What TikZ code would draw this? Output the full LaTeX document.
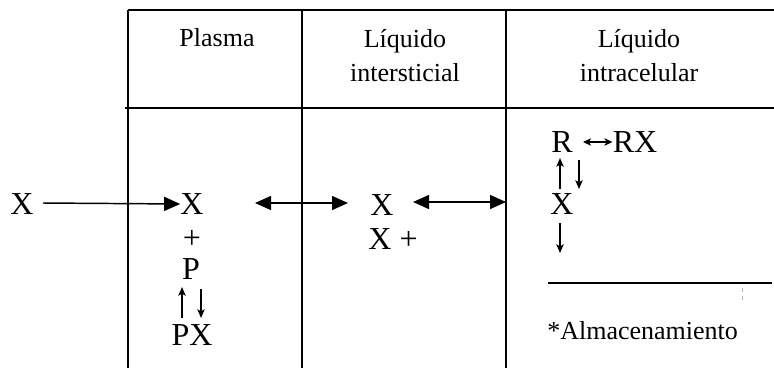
\documentclass[tikz,border=0pt]{standalone}
\usepackage{fontspec}
\setmainfont{Liberation Serif}
\usetikzlibrary{arrows.meta}
\begin{document}
\begin{tikzpicture}[x=0.75pt,y=-0.75pt,
  gridline/.style={line width=0.8pt},
  hdr/.style={font=\fontsize{19.5}{25.5}\selectfont, inner sep=0, align=center},
  chem/.style={font=\fontsize{24}{26}\selectfont, inner sep=0},
  txt/.style={font=\fontsize{19.5}{23}\selectfont, inner sep=0},
  bigarrow/.style={line width=1.1pt, -{Triangle[length=12pt,width=10.5pt]}},
  bigboth/.style={line width=1.1pt, {Triangle[length=12pt,width=10.5pt]}-{Triangle[length=12pt,width=10.5pt]}},
  smallarrow/.style={line width=1pt, -{Stealth[length=6.5pt,width=5.5pt,inset=1.5pt]}},
  smallboth/.style={line width=1pt, {Stealth[length=6pt,width=5.5pt,inset=1.5pt]}-{Stealth[length=6pt,width=5.5pt,inset=1.5pt]}}]
\useasboundingbox (0,0) rectangle (774,368);
% table frame
\coordinate (tl) at (128,10);
\coordinate (tr) at (774,10);
\coordinate (hl) at (125,108);
\coordinate (hr) at (774,108);
\draw[gridline] (tl) -- (tr);
\draw[gridline] (hl) -- (hr);
\draw[gridline] (128,10) -- (128,368);
\draw[gridline] (302,10) -- (302,368);
\draw[gridline] (506,10) -- (506,368);
% headers
\node[hdr] (h1) at (217,38) {Plasma};
\node[hdr] (h2) at (405,56) {Líquido\\intersticial};
\node[hdr] (h3) at (639,56) {Líquido\\intracelular};
% plasma column
\node[chem] (xin) at (22,204) {X};
\node[chem] (xp) at (192,204) {X};
\node[chem] (plus1) at (192,239) {+};
\node[chem] (p) at (191,269) {P};
\node[chem] (px) at (192,335) {PX};
\coordinate (u1a) at (182,318);
\coordinate (u1b) at (182,287);
\coordinate (d1s) at (201,289);
\coordinate (d1e) at (201,318);
\draw[smallarrow] (u1a) -- (u1b);
\draw[smallarrow] (d1s) -- (d1e);
\coordinate (a0) at (43,203);
\draw[bigarrow] (a0) -- (xp.west);
% interstitial column
\node[chem] (xi) at (382,205) {X};
\node[chem] (xiplus) at (393,239) {X +};
\coordinate (d1a) at (255,203);
\coordinate (d1b) at (348,203);
\draw[bigboth] (d1a) -- (d1b);
\coordinate (d2a) at (413,202);
\coordinate (d2b) at (506,202);
\draw[bigboth] (d2a) -- (d2b);
% intracellular column
\node[chem] (r) at (562,142) {R};
\node[chem] (rx) at (635,142) {RX};
\draw[smallboth] (583,142) -- (rx.west);
\node[chem] (xc) at (562,204) {X};
\coordinate (u2a) at (560,189);
\coordinate (u2b) at (560,158);
\coordinate (d2s) at (579,160);
\coordinate (d2e) at (579,189);
\draw[smallarrow] (u2a) -- (u2b);
\draw[smallarrow] (d2s) -- (d2e);
\coordinate (dna) at (560,223);
\coordinate (dnb) at (560,253);
\draw[smallarrow] (dna) -- (dnb);
\coordinate (la) at (548,283);
\coordinate (lb) at (772,283);
\draw[line width=0.9pt] (la) -- (lb);
\draw[gray!60, line width=0.5pt, dashed] (742,288) -- (742,303);
\node[txt, anchor=west] (alm) at (547,331) {*Almacenamiento};
\end{tikzpicture}
\end{document}
